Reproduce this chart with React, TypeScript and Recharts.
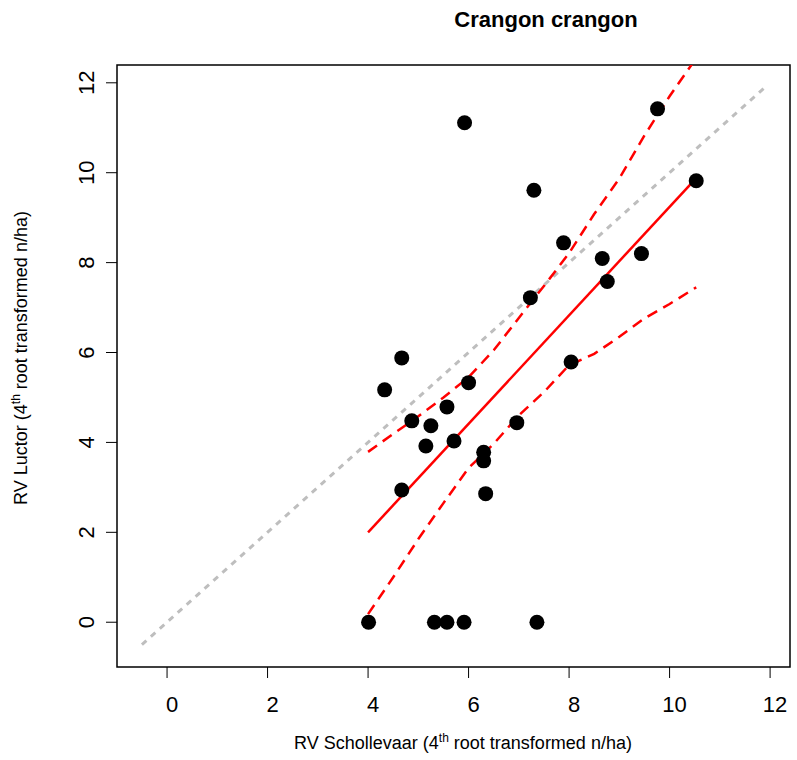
import React from 'react';
import { ComposedChart, Scatter, Line, XAxis, YAxis, ReferenceArea } from 'recharts';

// observed pairs (4th root transformed n/ha)
const rvSchollevaar = [4.01, 5.32, 5.57, 5.91, 7.36, 5.92, 9.76, 7.3, 10.53, 7.89, 8.66, 9.44, 8.76, 7.23, 4.67, 4.33, 6.0, 5.57, 4.87, 5.25, 5.15, 5.71, 6.3, 6.3, 6.96, 8.04, 4.67, 6.34];
const rvLuctor = [0, 0, 0, 0, 0, 11.11, 11.42, 9.61, 9.82, 8.44, 8.09, 8.2, 7.58, 7.22, 5.88, 5.17, 5.33, 4.79, 4.48, 4.37, 3.92, 4.03, 3.78, 3.59, 4.44, 5.79, 2.94, 2.86];

// fitted regression line + confidence band
const fitX = [4.0, 10.53];
const fitY = [2.0, 9.88];
const bandX = [4.0, 4.5, 5.0, 5.5, 6.0, 6.5, 7.0, 7.5, 8.0, 8.5, 9.0, 9.5, 10.0, 10.53];
const bandUpper = [3.79, 4.19, 4.58, 5.0, 5.45, 6.05, 6.77, 7.48, 8.21, 9.08, 9.87, 10.83, 11.7, 12.55];
const bandLower = [0.18, 1.0, 1.85, 2.65, 3.43, 3.97, 4.6, 5.12, 5.72, 5.97, 6.35, 6.76, 7.08, 7.45];

// 1:1 reference line
const oneToOne = [-0.5, 11.9];

const ticks = [0, 2, 4, 6, 8, 10, 12];
const domain: [number, number] = [-0.996, 12.396];

const FONT = '"Liberation Sans", Arial, sans-serif';

const points = rvSchollevaar.map((x, i) => ({ x, y: rvLuctor[i] }));
const fitData = fitX.map((x, i) => ({ x, y: fitY[i] }));
const upperData = bandX.map((x, i) => ({ x, y: bandUpper[i] }));
const lowerData = bandX.map((x, i) => ({ x, y: bandLower[i] }));
const diagData = oneToOne.map((v) => ({ x: v, y: v }));

const XTick = ({ x, y, payload }: any) => (
  <text x={x + 5} y={y} dy="0.71em" textAnchor="middle" fontSize={22} fontFamily={FONT} fill="#000">
    {payload.value}
  </text>
);

const YTick = ({ x, y, payload }: any) => (
  <text x={x} y={y} transform={`rotate(-90, ${x}, ${y})`} textAnchor="middle" fontSize={22} fontFamily={FONT} fill="#000">
    {payload.value}
  </text>
);

const Dot = (p: any) => <circle cx={p.cx} cy={p.cy} r={7.5} fill="#000" />;

export default function App() {
  return (
    <div style={{ position: 'absolute', left: 0, top: 0, width: 797, height: 760, background: '#fff' }}>
      <ComposedChart width={797} height={760} margin={{ top: 65, right: 7, bottom: 33, left: 57 }}>
        <XAxis
          type="number"
          dataKey="x"
          domain={domain}
          allowDataOverflow
          ticks={ticks}
          axisLine={false}
          tickSize={11}
          tickMargin={18}
          tickLine={{ stroke: '#000', strokeWidth: 1 }}
          tick={<XTick />}
          height={60}
        />
        <YAxis
          type="number"
          dataKey="y"
          domain={domain}
          allowDataOverflow
          ticks={ticks}
          axisLine={false}
          tickSize={11}
          tickMargin={12}
          tickLine={{ stroke: '#000', strokeWidth: 1 }}
          tick={<YTick />}
          width={60}
        />
        <ReferenceArea x1={domain[0]} x2={domain[1]} y1={domain[0]} y2={domain[1]} fill="none" stroke="#000" strokeWidth={1.5} fillOpacity={0} />
        <Scatter data={points} dataKey="y" shape={<Dot />} isAnimationActive={false} />
        <Line data={diagData} dataKey="y" stroke="#bebebe" strokeWidth={3} strokeDasharray="6 6" dot={false} activeDot={false} isAnimationActive={false} />
        <Line data={fitData} dataKey="y" stroke="#ff0000" strokeWidth={2.5} dot={false} activeDot={false} isAnimationActive={false} />
        <Line data={upperData} dataKey="y" stroke="#ff0000" strokeWidth={2.5} strokeDasharray="11 7" dot={false} activeDot={false} isAnimationActive={false} />
        <Line data={lowerData} dataKey="y" stroke="#ff0000" strokeWidth={2.5} strokeDasharray="11 7" dot={false} activeDot={false} isAnimationActive={false} />
      </ComposedChart>
      <svg width={797} height={760} style={{ position: 'absolute', left: 0, top: 0, pointerEvents: 'none' }}>
        <text x={546} y={27} textAnchor="middle" fontSize={22} fontWeight="bold" fontFamily={FONT} fill="#000">
          Crangon crangon
        </text>
        <text x={463} y={749} textAnchor="middle" fontSize={18} fontFamily={FONT} fill="#000">
          RV Schollevaar (4<tspan dy={-7} fontSize={12}>th</tspan>
          <tspan dy={7}> root transformed n/ha)</tspan>
        </text>
        <text x={27} y={358} transform="rotate(-90, 27, 358)" textAnchor="middle" fontSize={18} fontFamily={FONT} fill="#000">
          RV Luctor (4<tspan dy={-7} fontSize={12}>th</tspan>
          <tspan dy={7}> root transformed n/ha)</tspan>
        </text>
      </svg>
    </div>
  );
}
